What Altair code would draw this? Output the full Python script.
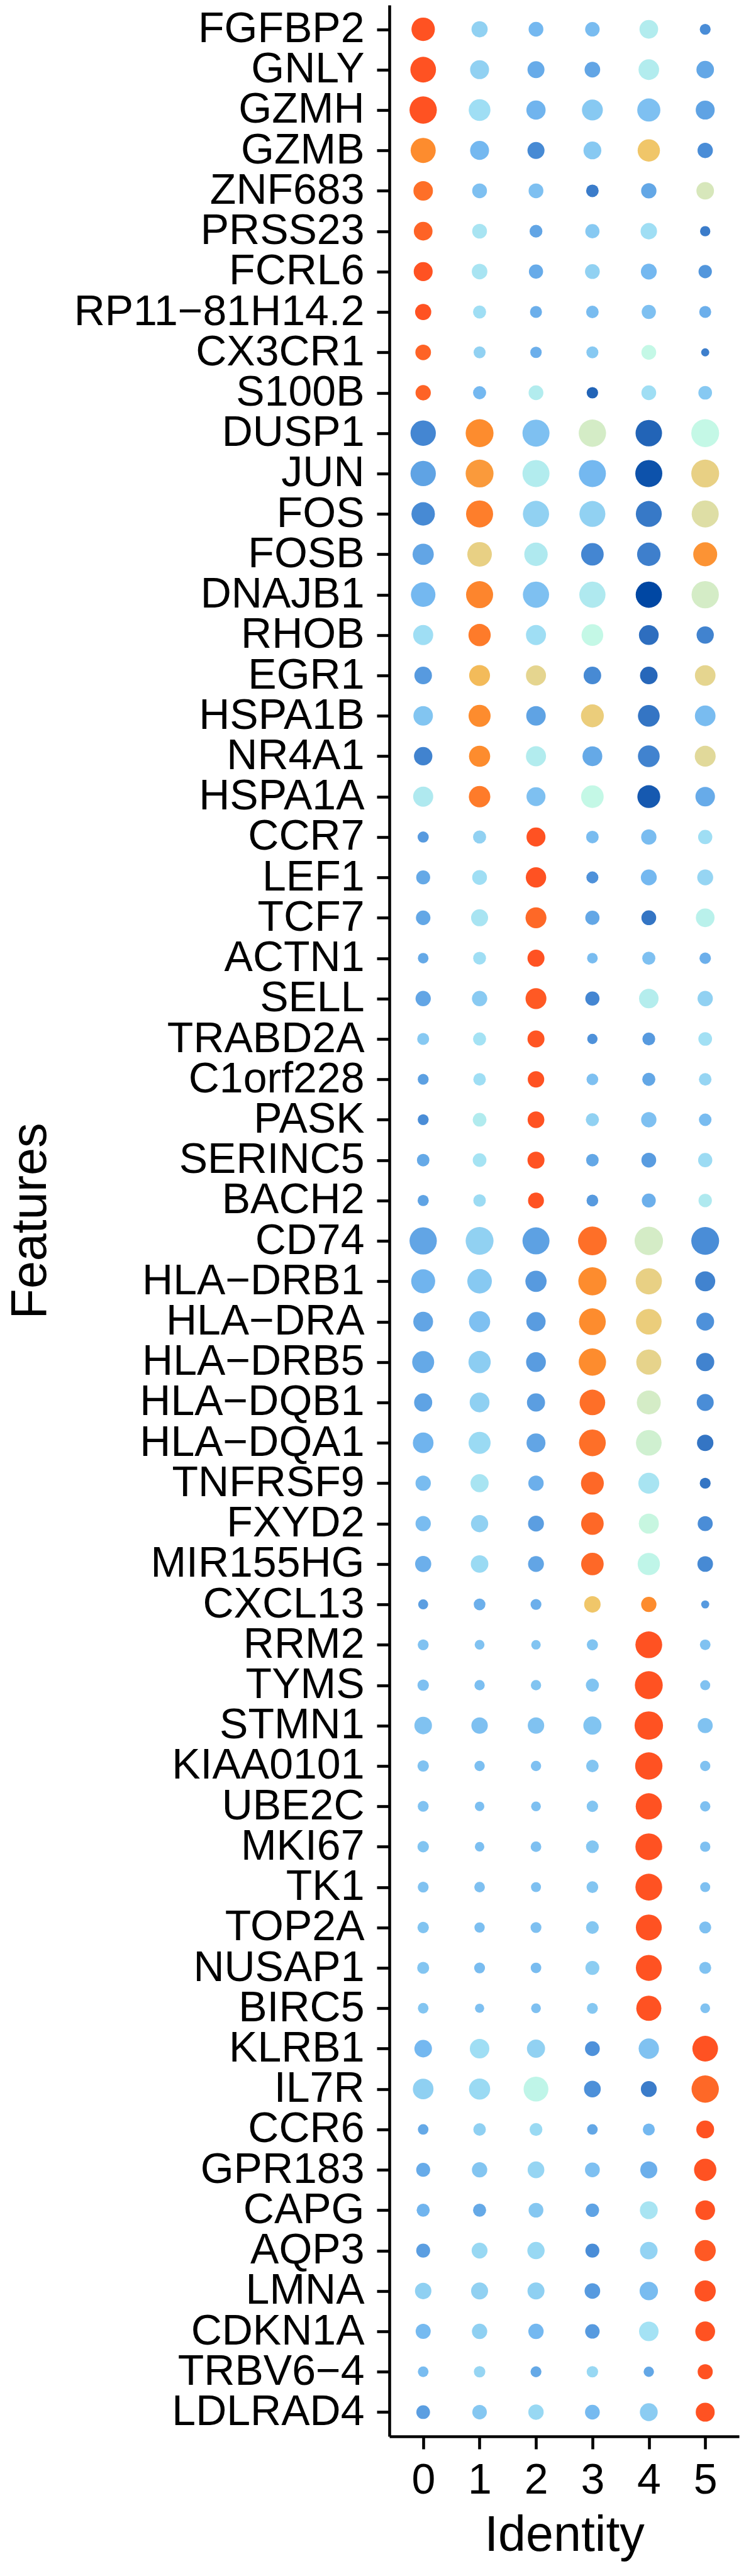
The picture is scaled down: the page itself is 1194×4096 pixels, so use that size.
import altair as alt
import pandas as pd

M = "\u2212"
features = [
    "FGFBP2", "GNLY", "GZMH", "GZMB", "ZNF683", "PRSS23", "FCRL6", "RP11" + M + "81H14.2", "CX3CR1", "S100B",
    "DUSP1", "JUN", "FOS", "FOSB", "DNAJB1", "RHOB", "EGR1", "HSPA1B", "NR4A1", "HSPA1A",
    "CCR7", "LEF1", "TCF7", "ACTN1", "SELL", "TRABD2A", "C1orf228", "PASK", "SERINC5", "BACH2",
    "CD74", "HLA" + M + "DRB1", "HLA" + M + "DRA", "HLA" + M + "DRB5", "HLA" + M + "DQB1", "HLA" + M + "DQA1",
    "TNFRSF9", "FXYD2", "MIR155HG", "CXCL13",
    "RRM2", "TYMS", "STMN1", "KIAA0101", "UBE2C", "MKI67", "TK1", "TOP2A", "NUSAP1", "BIRC5",
    "KLRB1", "IL7R", "CCR6", "GPR183", "CAPG", "AQP3", "LMNA", "CDKN1A", "TRBV6" + M + "4", "LDLRAD4",
]
identities = ["0", "1", "2", "3", "4", "5"]

# scaled average expression, one list per identity (rows follow `features`)
exp_0 = [2.0, 2.0, 2.0, 1.6, 1.8, 1.88, 2.0, 2.0, 1.88, 1.88,
         -1.1, -0.75, -1.05, -0.72, -0.5, -0.05, -0.85, -0.35, -1.15, 0.15,
         -0.85, -0.68, -0.7, -0.68, -0.72, -0.3, -0.78, -1.0, -0.68, -0.75,
         -0.72, -0.55, -0.72, -0.68, -0.75, -0.55, -0.45, -0.45, -0.6, -0.8,
         -0.38, -0.4, -0.38, -0.38, -0.38, -0.36, -0.38, -0.36, -0.34, -0.34,
         -0.5, -0.22, -0.68, -0.65, -0.55, -0.8, -0.22, -0.48, -0.45, -0.8]
exp_1 = [-0.2, -0.2, -0.05, -0.5, -0.4, 0.05, 0.05, -0.05, -0.2, -0.5,
         1.6, 1.5, 1.7, 1.0, 1.65, 1.72, 1.25, 1.6, 1.6, 1.72,
         -0.2, -0.05, 0.05, -0.05, -0.28, 0.0, -0.05, 0.18, 0.02, -0.08,
         -0.2, -0.3, -0.4, -0.25, -0.22, -0.1, 0.05, -0.2, -0.1, -0.6,
         -0.38, -0.42, -0.4, -0.42, -0.42, -0.42, -0.4, -0.42, -0.45, -0.4,
         -0.05, -0.1, -0.22, -0.34, -0.68, -0.12, -0.2, -0.22, -0.15, -0.32]
exp_2 = [-0.5, -0.65, -0.55, -1.05, -0.4, -0.72, -0.65, -0.6, -0.6, 0.2,
         -0.4, 0.2, -0.2, 0.15, -0.4, -0.05, 0.95, -0.75, 0.2, -0.4,
         2.0, 2.0, 1.85, 2.0, 1.95, 1.98, 2.0, 2.0, 2.0, 2.0,
         -0.77, -0.85, -0.82, -0.82, -0.8, -0.72, -0.6, -0.8, -0.72, -0.6,
         -0.36, -0.36, -0.38, -0.4, -0.4, -0.4, -0.4, -0.4, -0.45, -0.4,
         -0.2, 0.38, -0.1, -0.15, -0.32, -0.12, -0.22, -0.5, -0.68, -0.12]
exp_3 = [-0.45, -0.72, -0.3, -0.3, -1.25, -0.3, -0.2, -0.45, -0.3, -1.6,
         0.7, -0.5, -0.2, -1.1, 0.15, 0.45, -1.05, 1.05, -0.68, 0.45,
         -0.45, -0.95, -0.7, -0.45, -1.1, -0.95, -0.4, -0.2, -0.7, -0.85,
         1.8, 1.6, 1.6, 1.6, 1.8, 1.8, 1.85, 1.85, 1.85, 1.15,
         -0.36, -0.36, -0.36, -0.34, -0.34, -0.33, -0.34, -0.32, -0.25, -0.32,
         -0.95, -0.97, -0.7, -0.4, -0.75, -1.0, -0.85, -0.85, -0.12, -0.48]
exp_4 = [0.2, 0.2, -0.4, 1.15, -0.7, -0.05, -0.5, -0.4, 0.45, -0.05,
         -1.6, -1.85, -1.3, -1.2, -2.0, -1.45, -1.55, -1.35, -1.15, -1.75,
         -0.45, -0.5, -1.35, -0.4, 0.22, -0.85, -0.7, -0.4, -0.82, -0.6,
         0.7, 1.0, 1.05, 0.97, 0.7, 0.62, 0.05, 0.5, 0.38, 1.6,
         2.0, 2.0, 2.0, 2.0, 2.0, 2.0, 2.0, 2.0, 2.0, 2.0,
         -0.38, -1.25, -0.5, -0.6, 0.05, -0.18, -0.45, 0.0, -0.7, -0.26]
exp_5 = [-1.0, -0.7, -0.75, -1.0, 0.75, -1.25, -0.9, -0.6, -1.2, -0.3,
         0.45, 1.0, 0.85, 1.55, 0.7, -1.15, 0.95, -0.45, 0.9, -0.65,
         -0.05, -0.15, 0.3, -0.6, -0.2, -0.02, -0.15, -0.45, -0.08, 0.15,
         -1.0, -1.15, -0.95, -1.15, -1.0, -1.35, -1.35, -1.0, -1.05, -0.85,
         -0.38, -0.38, -0.38, -0.38, -0.4, -0.4, -0.4, -0.4, -0.38, -0.38,
         2.0, 1.85, 2.0, 2.0, 2.0, 1.95, 2.0, 2.0, 2.0, 2.0]

# percent expressed, one list per identity
pct_0 = [84, 92, 98, 90, 70, 67, 68, 58, 56, 55,
         91, 91, 84, 76, 88, 72, 63, 70, 66, 72,
         40, 50, 52, 38, 55, 43, 39, 39, 45, 40,
         98, 86, 71, 79, 65, 74, 55, 55, 58, 36,
         39, 41, 63, 41, 39, 41, 39, 41, 43, 38,
         63, 74, 38, 50, 47, 50, 59, 54, 38, 49]
pct_1 = [58, 68, 78, 68, 53, 53, 56, 47, 43, 47,
         100, 100, 97, 88, 97, 80, 75, 79, 76, 77,
         47, 53, 61, 46, 55, 47, 45, 49, 49, 45,
         100, 88, 76, 80, 71, 79, 65, 62, 63, 42,
         35, 37, 59, 37, 34, 34, 38, 37, 39, 33,
         70, 76, 45, 55, 47, 57, 61, 55, 41, 52]
pct_2 = [53, 61, 69, 61, 53, 46, 51, 43, 41, 53,
         97, 97, 94, 84, 94, 72, 72, 70, 72, 68,
         68, 73, 75, 61, 75, 61, 59, 60, 61, 57,
         97, 76, 69, 71, 65, 68, 55, 57, 57, 39,
         34, 37, 59, 37, 35, 38, 36, 39, 38, 35,
         65, 89, 46, 60, 53, 62, 61, 55, 39, 55]
pct_3 = [52, 56, 75, 64, 45, 51, 53, 45, 43, 41,
         98, 97, 93, 81, 94, 78, 63, 82, 71, 81,
         45, 43, 51, 38, 51, 37, 42, 47, 45, 42,
         103, 101, 96, 98, 92, 96, 82, 81, 81, 59,
         40, 47, 65, 45, 41, 46, 42, 46, 50, 39,
         53, 60, 38, 53, 48, 50, 56, 52, 41, 53]
pct_4 = [67, 74, 83, 80, 55, 59, 57, 51, 53, 53,
         95, 97, 93, 84, 94, 71, 63, 78, 78, 82,
         55, 57, 53, 47, 70, 46, 47, 55, 53, 50,
         102, 94, 92, 90, 86, 92, 75, 72, 80, 55,
         96, 100, 102, 98, 94, 96, 96, 93, 93, 90,
         73, 57, 43, 61, 64, 63, 66, 70, 37, 64]
pct_5 = [39, 63, 68, 55, 63, 37, 48, 43, 29, 49,
         100, 100, 97, 86, 98, 62, 74, 74, 75, 70,
         51, 57, 67, 41, 55, 49, 45, 45, 51, 48,
         100, 72, 64, 65, 61, 59, 39, 54, 56, 29,
         38, 36, 54, 37, 37, 37, 36, 43, 43, 35,
         92, 98, 64, 80, 71, 76, 76, 71, 54, 68]

color_stops = [-2.0, -1.5, -1.0, -0.5, 0.0, 0.45, 0.7, 1.0, 1.2, 1.6, 2.0]
color_range = ["#0047A3", "#2B6BBC", "#4A8DD7", "#74B8F0", "#A4E2F4", "#C4F8E6",
               "#D4ECC6", "#E8D084", "#F2C260", "#FD8C2E", "#FF5222"]

exps = [exp_0, exp_1, exp_2, exp_3, exp_4, exp_5]
pcts = [pct_0, pct_1, pct_2, pct_3, pct_4, pct_5]
rows = []
for j, ident in enumerate(identities):
    for i, feat in enumerate(features):
        rows.append({"feature": feat, "identity": ident,
                     "avg_exp": exps[j][i], "pct_exp": pcts[j][i]})
df = pd.DataFrame(rows)

FONT = "Liberation Sans"
W, H = 556, 3866

chart = alt.Chart(df).mark_circle(opacity=1).encode(
    x=alt.X("identity:N", sort=identities,
            scale=alt.Scale(type="point", padding=0.6),
            axis=alt.Axis(title="Identity", labelAngle=0, labelFont=FONT, labelFontSize=68,
                          labelColor="black", labelPadding=16, tickSize=20, tickWidth=4.6,
                          tickColor="black", domainColor="black", domainWidth=4.6, grid=False,
                          titleFont=FONT, titleFontSize=79, titleFontWeight="normal",
                          titleColor="black", titleX=W / 2, titleY=181,
                          titleBaseline="alphabetic", titleAlign="center")),
    y=alt.Y("feature:N", sort=features,
            scale=alt.Scale(type="point", padding=0.6),
            axis=alt.Axis(title="Features", labelFont=FONT, labelFontSize=68,
                          labelColor="black", labelPadding=20, tickSize=20, tickWidth=4.6,
                          tickColor="black", domainColor="black", domainWidth=4.6, grid=False,
                          labelLimit=1000, labelOverlap=False, labelBaseline="middle",
                          titleFont=FONT, titleFontSize=79, titleFontWeight="normal",
                          titleColor="black", titleAngle=270, titleX=-547, titleY=H / 2,
                          titleBaseline="alphabetic", titleAlign="center")),
    color=alt.Color("avg_exp:Q", legend=None,
                    scale=alt.Scale(domain=color_stops, range=color_range, interpolate="rgb")),
    size=alt.Size("pct_exp:Q", legend=None,
                  scale=alt.Scale(type="pow", exponent=2, domain=[0, 100], range=[0, 1963.5])),
).properties(
    width=W, height=H,
    padding={"left": 611, "top": 0, "right": 10, "bottom": 200},
    autosize=alt.AutoSizeParams(type="none"),
    background="white",
).configure_view(strokeWidth=0)

chart.save("out.html", embed_options={"renderer": "svg", "actions": False})
